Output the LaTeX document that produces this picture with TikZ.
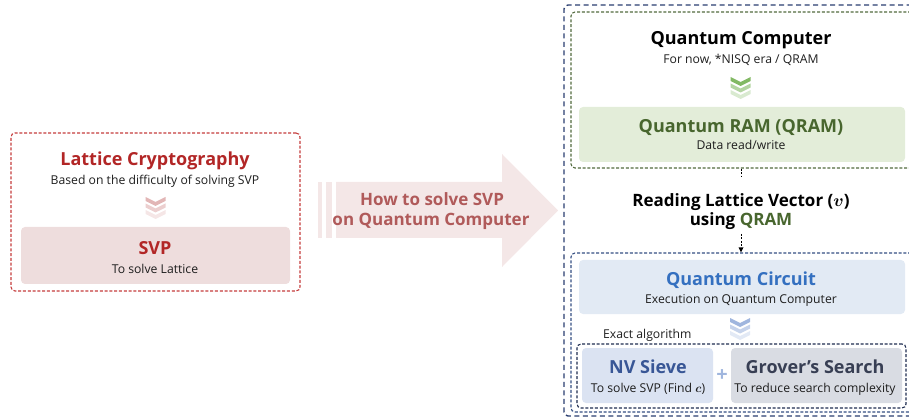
\documentclass[tikz,border=0pt]{standalone}
\usepackage{amsmath,amssymb}
\usepackage{bm}
\usepackage{fontspec}
\setmainfont{Open Sans}
\usetikzlibrary{positioning, shapes, arrows.meta}
\usepackage{xcolor}
\definecolor{latred}{RGB}{178,38,38}
\definecolor{redline}{RGB}{196,60,60}
\definecolor{svpfill}{RGB}{238,221,221}
\definecolor{arrfill}{RGB}{244,231,231}
\definecolor{arrtext}{RGB}{176,90,90}
\definecolor{navyline}{RGB}{42,62,112}
\definecolor{greenline}{RGB}{82,106,62}
\definecolor{greenfill}{RGB}{227,237,217}
\definecolor{greentext}{RGB}{72,102,46}
\definecolor{greenchev}{RGB}{130,185,100}
\definecolor{blueline}{RGB}{52,78,130}
\definecolor{bluefill}{RGB}{226,234,244}
\definecolor{bluetext}{RGB}{52,112,192}
\definecolor{bluechev}{RGB}{160,182,222}
\definecolor{darkline}{RGB}{30,44,80}
\definecolor{nvfill}{RGB}{219,227,242}
\definecolor{nvtext}{RGB}{56,86,150}
\definecolor{grovfill}{RGB}{217,220,227}
\definecolor{grovtext}{RGB}{56,63,84}
\definecolor{redchev}{RGB}{226,182,182}
\definecolor{subtext}{RGB}{30,30,30}

\begin{document}
\begin{tikzpicture}[x=1pt, y=-1pt,
    title/.style={font=\fontsize{18}{20}\selectfont\bfseries, anchor=base, inner sep=0pt},
    mid/.style={font=\fontsize{17}{19}\selectfont\bfseries, anchor=base, inner sep=0pt},
    sub/.style={font=\fontsize{12.2}{14}\selectfont, text=subtext, anchor=base, inner sep=0pt},
    panel/.style={rounded corners=4pt, inner sep=0pt},
    frame/.style={draw, rounded corners=4pt, inner sep=0pt, line width=1.1pt, dash pattern=on 3pt off 1.8pt},
    link/.style={draw, line width=0.8pt, dash pattern=on 2pt off 1.5pt}]
    \useasboundingbox (0,0) rectangle (909,419);

    % left side
    \node[frame, draw=redline, minimum width=289pt, minimum height=158pt] (lbox) at (155.5,212) {};
    \node[panel, fill=svpfill, minimum width=269pt, minimum height=57pt] (svpbox) at (155.5,255.5) {};
    \node[title, text=latred] (latt) at (155,166) {Lattice Cryptography};
    \node[sub] (lattsub) at (155,185) {Based on the difficulty of solving SVP};
    \foreach \i/\op in {0/1, 1/0.65, 2/0.35}
        \fill[redchev, opacity=\op, shift={(155.5,197+6.5*\i)}] (-10,0) -- (0,5) -- (10,0) -- (10,4) -- (0,9) -- (-10,4) -- cycle;
    \node[title, text=latred] (svp) at (155,255) {SVP};
    \node[sub] (svpsub) at (155,273) {To solve Lattice};

    % big arrow
    \fill[arrfill] (318,182) rectangle (322,238);
    \fill[arrfill] (326,182) rectangle (332,238);
    \fill[arrfill] (336,182) -- (502,182) -- (502,154) -- (558,210.5) -- (502,267) -- (502,238) -- (336,238) -- cycle;
    \node[mid, text=arrtext] (how1) at (432,206) {How to solve SVP};
    \node[mid, text=arrtext] (how2) at (431,226) {on Quantum Computer};

    % right side
    \node[frame, draw=navyline, line width=1.4pt, dash pattern=on 5pt off 3.5pt, minimum width=360pt, minimum height=411pt] (outer) at (744,210.5) {};
    \node[frame, draw=greenline, minimum width=349pt, minimum height=156pt] (gdash) at (745.5,90) {};
    \node[title] (qc) at (741,45) {Quantum Computer};
    \node[sub] (qcsub) at (741,64) {For now, *NISQ era / QRAM};
    \foreach \i/\op in {0/1, 1/0.6, 2/0.3}
        \fill[greenchev, opacity=\op, shift={(740.5,77+6.5*\i)}] (-10,0) -- (0,5) -- (10,0) -- (10,4) -- (0,9) -- (-10,4) -- cycle;
    \node[panel, fill=greenfill, minimum width=326pt, minimum height=55pt] (qram) at (742,134.5) {};
    \node[title, text=greentext] (qramt) at (741,133) {Quantum RAM (QRAM)};
    \node[sub] (qramsub) at (741,150) {Data read/write};

    \node[mid] (rd1) at (741,207) {Reading Lattice Vector ($\bm{v}$)};
    \node[mid] (rd2) at (741,226) {using \textcolor{greentext}{QRAM}};
    \coordinate (rdtop) at (741,177);
    \coordinate (rdbot) at (741,234);

    \node[frame, draw=blueline, minimum width=349pt, minimum height=159pt] (bdash) at (745.5,332.5) {};
    \node[panel, fill=bluefill, minimum width=326pt, minimum height=54pt] (qcirc) at (742,287) {};
    \node[title, text=bluetext] (qct) at (741,285) {Quantum Circuit};
    \node[sub] (qcsub2) at (741,303) {Execution on Quantum Computer};
    \foreach \i/\op in {0/1, 1/0.6, 2/0.3}
        \fill[bluechev, opacity=\op, shift={(740,318+6.5*\i)}] (-10,0) -- (0,5) -- (10,0) -- (10,4) -- (0,9) -- (-10,4) -- cycle;
    \node[sub, anchor=base west] (exact) at (603,338) {Exact algorithm};

    \node[frame, draw=darkline, minimum width=329pt, minimum height=64pt] (algo) at (741.5,376) {};
    \node[panel, fill=nvfill, minimum width=131pt, minimum height=55pt] (nvbox) at (647.5,375.5) {};
    \node[panel, fill=grovfill, minimum width=171pt, minimum height=55pt] (grovbox) at (816.5,375.5) {};
    \node[title, text=nvtext] (nv) at (648,373) {NV Sieve};
    \node[sub] (nvsub) at (648,392) {To solve SVP (Find $\bm{c}$)};
    \node[font=\fontsize{20}{20}\selectfont\bfseries, text=bluechev, inner sep=0pt] (plus) at (722,376) {+};
    \node[title, text=grovtext] (grov) at (815,373) {Grover’s Search};
    \node[sub] (grovsub) at (815,392) {To reduce search complexity};

    \draw[link] (gdash.south -| rdtop) -- (rdtop);
    \draw[link] (rdbot) -- ([yshift=4pt]rdbot |- bdash.north);
    \fill (rdbot |- bdash.north) -- ++(-2.5,-5) -- ++(5,0) -- cycle;
\end{tikzpicture}
\end{document}
